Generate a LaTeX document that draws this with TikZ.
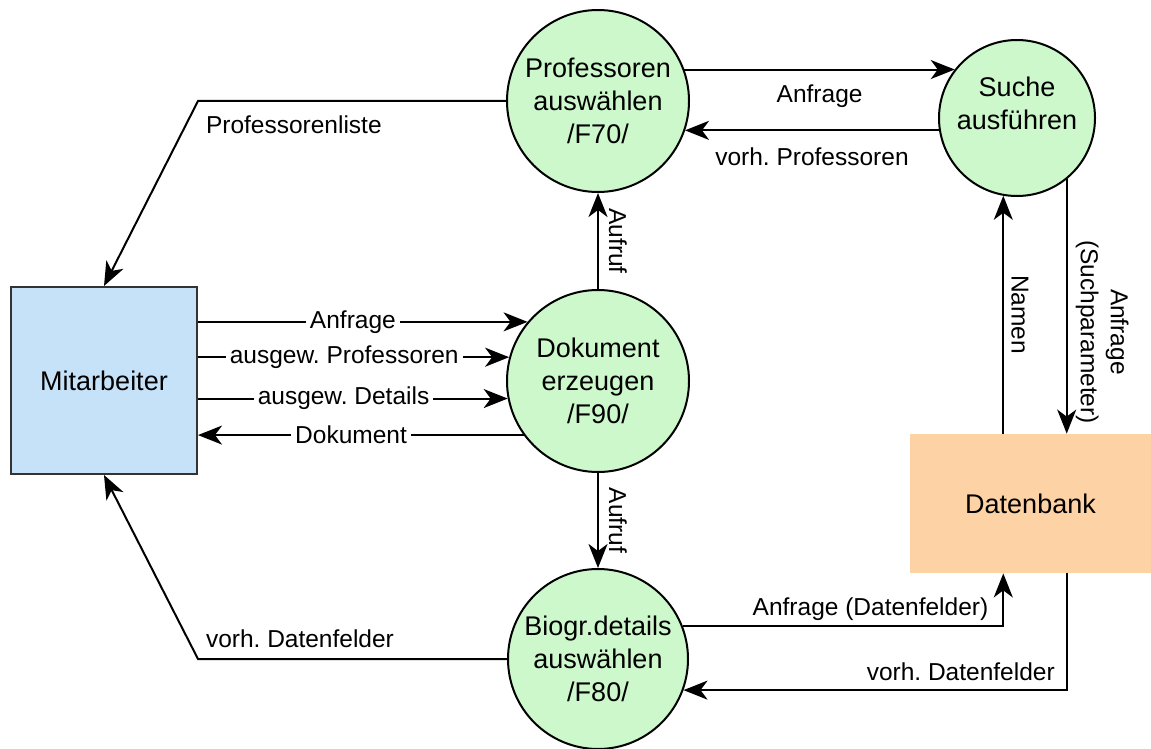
\documentclass[tikz,border=0pt]{standalone}
\usepackage{fontspec}
\setmainfont{Liberation Sans}
\usepackage{tikz}
\usetikzlibrary{calc}
\usetikzlibrary{positioning}
\usetikzlibrary{arrows.meta}

\definecolor{procgreen}{HTML}{CCF8CC}
\definecolor{mitblue}{HTML}{C6E2F8}
\definecolor{dborange}{HTML}{FDD2A4}
\frenchspacing

\begin{document}
\begin{tikzpicture}[x=0.5pt,y=-0.5pt,
    proc/.style={circle,draw,line width=1pt,fill=procgreen,inner sep=0pt,align=center,
      font=\fontsize{13.5}{16.5}\selectfont},
    flow/.style={arrows=-{Stealth[length=12pt,width=9.5pt,inset=3.5pt]},line width=1pt},
    lbl/.style={font=\fontsize{12.25}{15}\selectfont,inner sep=2pt,align=center}]
    \useasboundingbox (0,0) rectangle (1151,749);

    % prozesse
    \node [proc,minimum size=91pt] (prof)  at (598,101) {Professoren\\auswählen\\/F70/};
    \node [proc,minimum size=78pt] (suche) at (1017,118) {Suche\\ausführen\\[-1.5pt]\mbox{}};
    \node [proc,minimum size=91pt] (dok)   at (598,381) {Dokument\\erzeugen\\/F90/};
    \node [proc,minimum size=90pt] (biogr) at (598,659) {Biogr.details\\auswählen\\/F80/};

    % akteur und speicher
    \node [draw=black!80,line width=1pt,fill=mitblue,minimum width=93pt,minimum height=93.5pt,
      font=\fontsize{13.5}{16.5}\selectfont] (mit) at (104,380.5) {Mitarbeiter};
    \node [fill=dborange,minimum width=120.5pt,minimum height=69.5pt,
      font=\fontsize{13.5}{16.5}\selectfont] (db) at (1030.5,503.5) {Datenbank};

    % professoren suchen
    \draw [flow] (prof.20) -- node[lbl,below=5pt] {Anfrage} (prof.20 -| suche.142);
    \draw [flow] (suche.189) -- node[lbl,below=6pt] {vorh. Professoren} (suche.189 -| prof.341);
    \draw [flow] (prof.west) -- node[lbl,pos=1,anchor=north west,xshift=1.5pt,yshift=-5pt] {Professorenliste}
      (prof.west -| mit.east) -- (mit.north);

    % aufrufe
    \draw [flow] (dok.north) -- node[lbl,rotate=-90,anchor=south,inner ysep=5pt] {Aufruf} (prof.south);
    \draw [flow] (dok.south) -- node[lbl,rotate=-90,anchor=south,inner ysep=5pt] {Aufruf} (biogr.north);

    % mitarbeiter und dokument
    \draw [flow] (mit.east |- dok.140) -- node[lbl,fill=white,pos=0.47] {Anfrage} (dok.140);
    \draw [flow] (mit.east |- dok.165) -- node[lbl,fill=white,pos=0.47] {ausgew. Professoren} (dok.165);
    \draw [flow] (mit.east |- dok.191) -- node[lbl,fill=white,pos=0.47] {ausgew. Details} (dok.191);
    \draw [flow] (dok.216) -- node[lbl,fill=white,pos=0.53] {Dokument} (mit.east |- dok.216);

    % datenbank
    \draw [flow] (suche.260 |- db.north) -- node[lbl,rotate=-90,anchor=south,inner ysep=3.5pt] {Namen} (suche.260);
    \draw [flow] (suche.309) -- node[lbl,pos=0.6,rotate=-90,anchor=south,inner ysep=4pt] {Anfrage\\(Suchparameter)}
      (suche.309 |- db.north);
    \draw [flow] (biogr.21) -| node[lbl,pos=0.5,anchor=south east,xshift=-5pt,yshift=0.5pt] {Anfrage (Datenfelder)}
      (suche.260 |- db.south);
    \draw [flow] (suche.309 |- db.south) |- node[lbl,pos=0.5,anchor=south east,xshift=-3.5pt,yshift=2pt] {vorh. Datenfelder}
      (biogr.340);

    % details zurueck
    \draw [flow] (biogr.west) -- node[lbl,pos=1,anchor=south west,xshift=1.5pt,yshift=3pt] {vorh. Datenfelder}
      (biogr.west -| mit.east) -- (mit.south);
\end{tikzpicture}
\end{document}
